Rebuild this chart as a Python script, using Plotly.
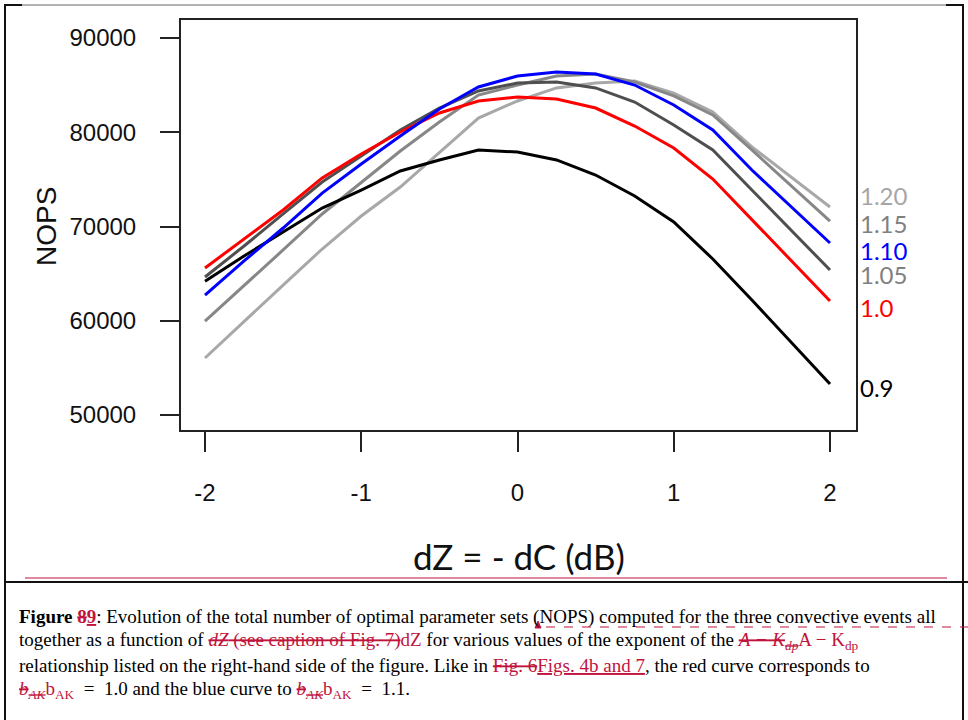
import plotly.graph_objects as go

W, H = 968, 720

# ---------------- data ----------------
dz = [-2.0, -1.75, -1.5, -1.25, -1.0, -0.75, -0.5, -0.25, 0.0,
      0.25, 0.5, 0.75, 1.0, 1.25, 1.5, 1.75, 2.0]

nops_090 = [64200, 66870, 69420, 71960, 73870, 75890, 77060, 78120, 77900,
            77060, 75460, 73240, 70480, 66550, 62200, 57750, 53290]
nops_100 = [65600, 68670, 71750, 75150, 77690, 80030, 82040, 83320, 83740,
            83530, 82570, 80660, 78330, 75040, 70690, 66340, 62100]
nops_105 = [64640, 67930, 71330, 74720, 77480, 80240, 82570, 84380, 85230,
            85330, 84700, 83210, 80770, 78120, 73870, 69630, 65380]
nops_110 = [62730, 66340, 69840, 73550, 76630, 79600, 82470, 84800, 85970,
            86390, 86180, 85010, 82890, 80240, 75990, 72070, 68250]
nops_115 = [59970, 63690, 67510, 71330, 74720, 78010, 81090, 83950, 85010,
            85970, 86180, 85330, 83850, 81830, 78120, 74400, 70580]
nops_120 = [56050, 59970, 63790, 67610, 71110, 74190, 77900, 81510, 83320,
            84700, 85230, 85440, 84160, 82150, 78440, 75250, 72070]

exponent_labels = ["1.20", "1.15", "1.10", "1.05", "1.0", "0.9"]
x_ticks = [-2, -1, 0, 1, 2]
y_ticks = [50000, 60000, 70000, 80000, 90000]

# ---------------- helpers ----------------
def px(x):
    return x / W


def py(y):
    return 1 - y / H


RED = "#c0143c"

series = [
    (nops_120, "#a8a8a8"),
    (nops_115, "#878787"),
    (nops_105, "#4f4f4f"),
    (nops_090, "#000000"),
    (nops_100, "#ff0000"),
    (nops_110, "#0000ff"),
]

fig = go.Figure()
for vals, col in series:
    fig.add_trace(go.Scatter(x=dz, y=vals, mode="lines",
                             line=dict(color=col, width=3),
                             showlegend=False, hoverinfo="skip"))

fig.update_layout(
    width=W, height=H, autosize=False,
    margin=dict(l=0, r=0, t=0, b=0),
    paper_bgcolor="white", plot_bgcolor="white",
    showlegend=False,
    xaxis=dict(
        domain=[px(181), px(856)],
        range=[-2.1536, 2.1664],
        tickvals=x_ticks, ticktext=[str(v) for v in x_ticks],
        ticks="outside", ticklen=20, tickwidth=2, tickcolor="#222",
        showline=True, linecolor="#222", linewidth=2, mirror=True,
        showgrid=False, zeroline=False,
        tickfont=dict(family="Liberation Sans, Arial", size=24, color="#111"),
        ticklabelstandoff=20,
    ),
    yaxis=dict(
        domain=[py(430), py(20)],
        range=[48408, 91910],
        tickvals=y_ticks, ticktext=[str(v) for v in y_ticks],
        ticks="outside", ticklen=19, tickwidth=2, tickcolor="#222",
        showline=True, linecolor="#222", linewidth=2, mirror=True,
        showgrid=False, zeroline=False,
        tickfont=dict(family="Liberation Sans, Arial", size=24, color="#111"),
        ticklabelstandoff=19,
    ),
)

ann = []
# y-axis title
ann.append(dict(x=px(46), y=py(227), xref="paper", yref="paper",
                text="NOPS", showarrow=False, textangle=-90,
                font=dict(family="Liberation Sans, Arial", size=28, color="#111"),
                xanchor="center", yanchor="middle"))
# x-axis title
ann.append(dict(x=px(519), y=py(556), xref="paper", yref="paper",
                text="dZ = - dC (dB)", showarrow=False,
                font=dict(family="Lato", size=35, color="#111"),
                xanchor="center", yanchor="middle"))

# right-hand labels
lab_cols = ["#a6a6a6", "#808080", "#0000ff", "#808080", "#ff0000", "#000000"]
lab_y = [196, 223, 250, 274, 307, 387]
for t, c, yy in zip(exponent_labels, lab_cols, lab_y):
    ann.append(dict(x=px(858), y=py(yy), xref="paper", yref="paper",
                    text=t, showarrow=False,
                    font=dict(family="Lato", size=24, color=c),
                    xanchor="left", yanchor="middle"))

# caption
cap_font = dict(family="Liberation Serif, Times New Roman", size=19, color="#000")
R = '<span style="color:%s">' % RED
cap_lines = [
    '<b>Figure </b>' + R + '<b><s>8</s><u>9</u></b></span>: Evolution of the total number of optimal parameter sets (NOPS) computed for the three convective events all',
    'together as a function of ' + R + '<s><i>dZ</i> (see caption of Fig. 7)</s>dZ</span> for various values of the exponent of the '
    + R + '<s><i>A \u2212 K<sub>dp</sub></i></s>A \u2212 K<sub>dp</sub></span>',
    'relationship listed on the right-hand side of the figure. Like in ' + R + '<s>Fig. 6</s><u>Figs. 4b and 7</u></span>, the red curve corresponds to',
    R + '<s><i>b<sub>AK</sub></i></s>b<sub>AK</sub></span>  =  1.0 and the blue curve to '
    + R + '<s><i>b<sub>AK</sub></i></s>b<sub>AK</sub></span>  =  1.1.',
]
cap_y = [617, 641, 665, 690]
for t, yy in zip(cap_lines, cap_y):
    ann.append(dict(x=px(17), y=py(yy), xref="paper", yref="paper",
                    text=t, showarrow=False, font=cap_font,
                    xanchor="left", yanchor="middle", align="left"))

fig.update_layout(annotations=ann)

shapes = []
def line(x0, y0, x1, y1, color, width=1.5, dash="solid"):
    shapes.append(dict(type="line", xref="paper", yref="paper",
                       x0=px(x0), y0=py(y0), x1=px(x1), y1=py(y1),
                       line=dict(color=color, width=width, dash=dash)))

# page borders
line(22, 5, 946, 5, "#9a9a9a", 1.5)
line(4, 5, 22, 5, "#111", 2)
line(946, 5, 964, 5, "#111", 2)
line(5, 5, 5, 720, "#111", 2)
line(963, 5, 963, 720, "#111", 2)
# separator lines
line(25, 578, 947, 578, RED, 1.2)
line(5, 582, 968, 582, "#111", 2)
# comment marker (dashed)
line(546, 627, 968, 627, RED, 1.2, "dash")
shapes.append(dict(type="path", xref="paper", yref="paper",
                   path="M %f %f L %f %f L %f %f Z" % (px(535), py(628), px(541), py(628), px(538), py(621)),
                   fillcolor=RED, line=dict(color=RED, width=1)))

fig.update_layout(shapes=shapes)

fig.write_html("out.html")
